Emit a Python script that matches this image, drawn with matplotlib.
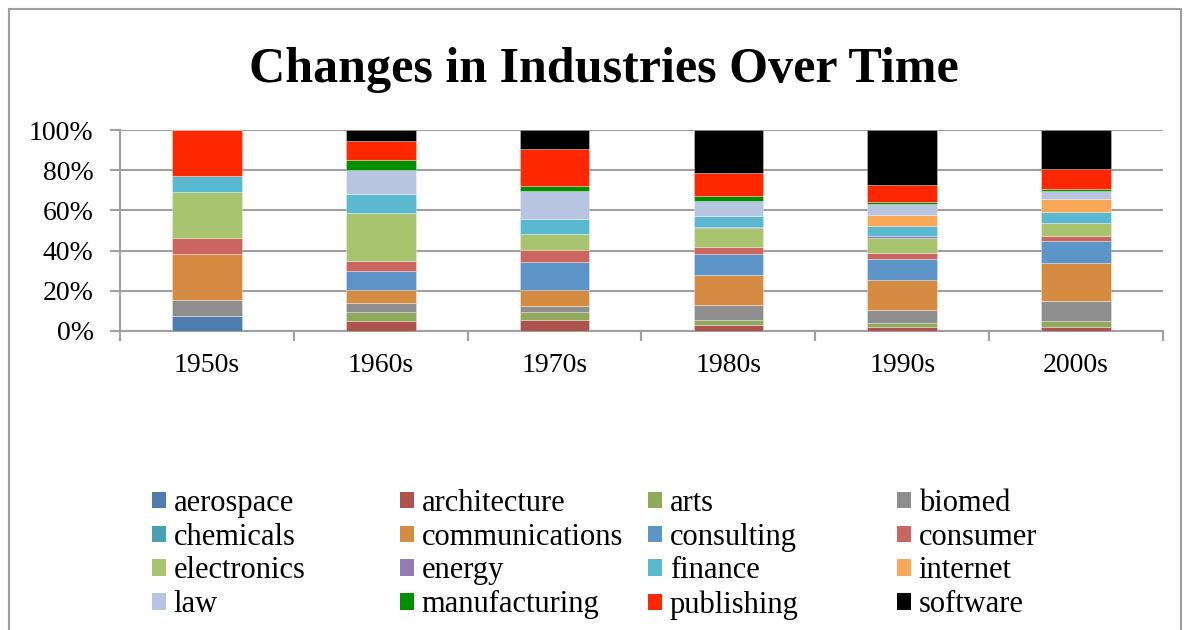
import matplotlib
matplotlib.use("Agg")
import matplotlib.pyplot as plt
from matplotlib.patches import Patch, Rectangle
import numpy as np

plt.rcParams['font.family'] = ['Liberation Serif', 'DejaVu Serif']

decades = ["1950s", "1960s", "1970s", "1980s", "1990s", "2000s"]
industries = ["aerospace", "architecture", "arts", "biomed", "chemicals",
              "communications", "consulting", "consumer", "electronics",
              "energy", "finance", "internet", "law", "manufacturing",
              "publishing", "software"]

aerospace      = [7.7, 0.0, 0.0, 0.0, 0.0, 0.0]
architecture   = [0.0, 5.2, 5.7, 3.0, 2.2, 2.0]
arts           = [0.0, 4.2, 3.7, 2.7, 2.0, 3.0]
biomed         = [7.7, 4.5, 3.0, 7.0, 6.0, 9.7]
chemicals      = [0.0, 0.0, 0.0, 0.0, 0.0, 0.0]
communications = [23.1, 6.5, 8.0, 15.3, 15.0, 19.2]
consulting     = [0.0, 9.5, 13.8, 10.3, 10.8, 10.8]
consumer       = [7.7, 5.0, 6.2, 3.3, 3.0, 2.8]
electronics    = [23.1, 23.7, 7.8, 9.5, 7.5, 6.2]
energy         = [0.0, 0.0, 0.0, 0.8, 0.7, 0.0]
finance        = [7.7, 9.7, 7.3, 5.2, 4.8, 5.5]
internet       = [0.0, 0.0, 0.0, 0.0, 5.8, 6.5]
law            = [0.0, 11.8, 14.0, 7.7, 5.3, 3.8]
manufacturing  = [0.0, 5.0, 2.8, 2.3, 1.2, 1.3]
publishing     = [23.0, 9.5, 18.2, 11.5, 8.5, 9.7]
software       = [0.0, 5.5, 9.5, 21.3, 27.2, 19.5]

series = [aerospace, architecture, arts, biomed, chemicals, communications,
          consulting, consumer, electronics, energy, finance, internet, law,
          manufacturing, publishing, software]

colors = ["#4F7CAE", "#AD524E", "#90A95B", "#8E8E8E", "#47A0B3", "#D68B43",
          "#5E95C9", "#CB655F", "#A9C46E", "#937BB3", "#5AB8D1", "#F9A85A",
          "#B7C5E0", "#008F00", "#FF2700", "#000000"]

W, H = 1191, 630
fig = plt.figure(figsize=(W / 100, H / 100), dpi=100)

# outer chart frame
fig.patches.append(Rectangle((9 / W, -0.1), (1181 - 9) / W, (H - 9) / H + 0.1,
                             transform=fig.transFigure, fill=False,
                             edgecolor="#A0A0A0", linewidth=1.5))

ax = fig.add_axes([120 / W, (H - 331) / H, (1163 - 120) / W, (331 - 130) / H])

data = np.array(series, dtype=float)
totals = data.sum(axis=0)
pct = data / totals * 100
x = np.arange(len(decades))
bottom = np.zeros(len(decades))
for name, vals, c in zip(industries, pct, colors):
    ax.bar(x, vals, bottom=bottom, width=0.4, color=c, label=name,
           edgecolor=(1, 1, 1, 0.35), linewidth=0.6, zorder=3)
    bottom += vals

ax.set_xlim(-0.5, len(decades) - 0.5)
ax.set_ylim(0, 100)
ax.set_yticks(np.arange(0, 101, 20))
ax.set_yticklabels([f"{v}%" for v in range(0, 101, 20)], fontsize=20)
ax.set_xticks(x)
ax.set_xticklabels(decades, fontsize=20)
ax.set_xticks(np.arange(-0.5, len(decades)), minor=True)
ax.tick_params(axis='x', which='major', length=0, pad=16)
ax.tick_params(axis='x', which='minor', length=7, width=1.5, color="#A0A0A0")
ax.tick_params(axis='y', length=7, width=1.5, color="#A0A0A0", pad=12)
ax.yaxis.grid(True, color="#A0A0A0", linewidth=1.5, zorder=0)
ax.set_axisbelow(True)
for s in ["top", "right"]:
    ax.spines[s].set_visible(False)
for s in ["left", "bottom"]:
    ax.spines[s].set_color("#A0A0A0")
    ax.spines[s].set_linewidth(1.5)

fig.text(604 / W, 1 - 70 / H, "Changes in Industries Over Time",
         fontsize=36, fontweight="bold", ha="center", va="center")

# legend: 4 columns, row-major order
col_x = [152, 400, 648, 897]
for ci in range(4):
    idx = list(range(ci, len(industries), 4))
    handles = [Patch(facecolor=colors[i], edgecolor="none") for i in idx]
    labels = [industries[i] for i in idx]
    fig.legend(handles, labels, loc="upper left",
               bbox_to_anchor=(col_x[ci] / W, 1 - 489 / H),
               frameon=False, fontsize=22, borderpad=0, borderaxespad=0,
               handlelength=0.46, handleheight=0.46, handletextpad=0.25,
               labelspacing=0.155)

fig.savefig("out.png", dpi=100)
